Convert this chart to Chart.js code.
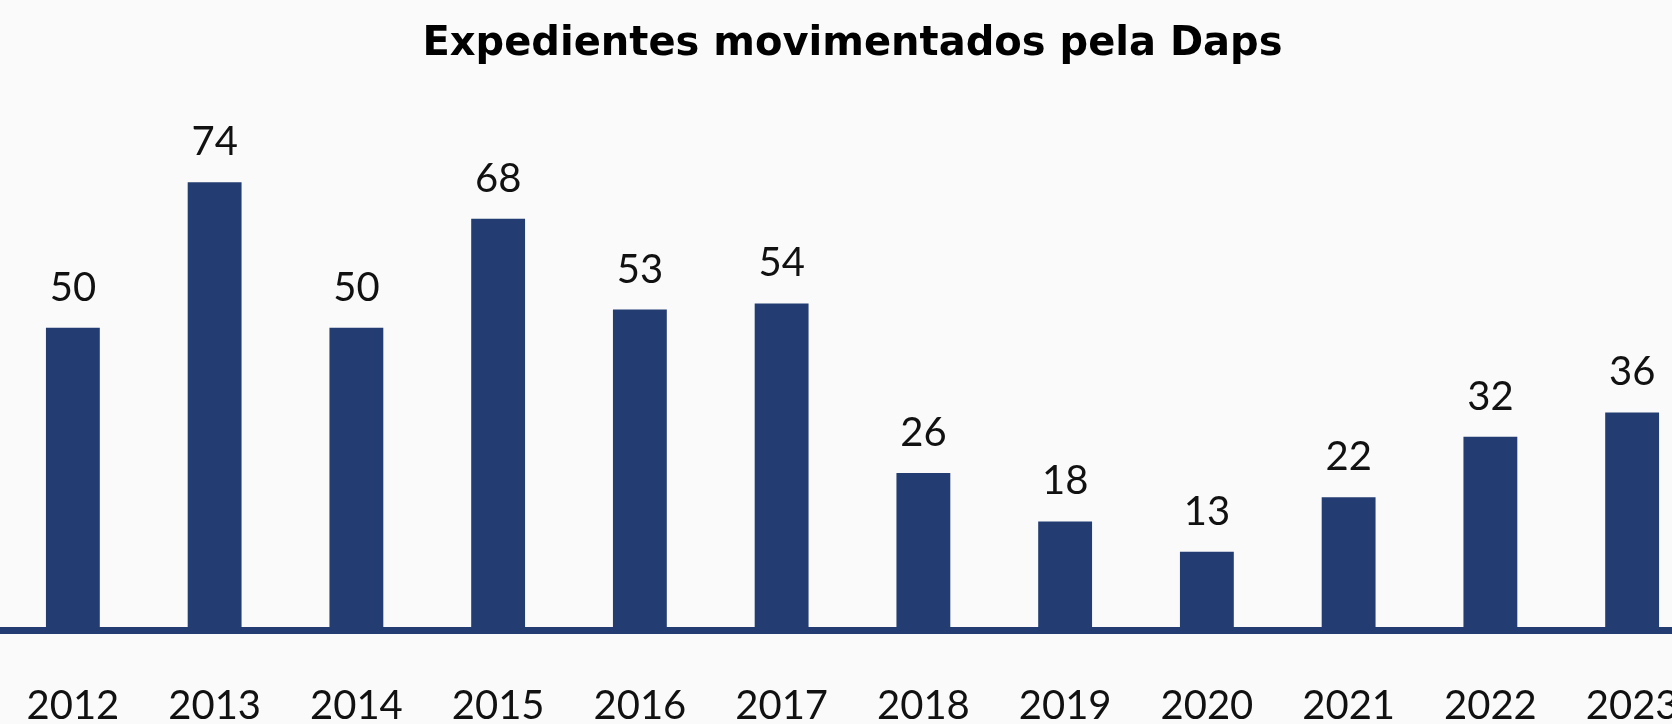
<!DOCTYPE html>
<html>
<head>
<meta charset="utf-8">
<title>Expedientes movimentados pela Daps</title>
<script src="https://cdn.jsdelivr.net/npm/chart.js@4/dist/chart.umd.min.js"></script>
<style>
	html, body { margin: 0; padding: 0; background: #fafafa; overflow: hidden; }
	.chart-box { position: relative; width: 1704px; height: 724px; }
</style>
</head>
<body>
<div class="chart-box"><canvas id="expedientesChart"></canvas></div>
<script>
const anos = ["2012", "2013", "2014", "2015", "2016", "2017", "2018", "2019", "2020", "2021", "2022", "2023"];
const expedientes = [50, 74, 50, 68, 53, 54, 26, 18, 13, 22, 32, 36];

const barColor = "#233d72";
const fontFamily = "Lato, 'Noto Sans', sans-serif";

// value written above each bar
const valueLabels = {
	id: "valueLabels",
	afterDatasetsDraw(chart) {
		const ctx = chart.ctx;
		const meta = chart.getDatasetMeta(0);
		ctx.save();
		ctx.font = `40px ${fontFamily}`;
		ctx.fillStyle = "#111111";
		ctx.textAlign = "center";
		ctx.textBaseline = "alphabetic";
		meta.data.forEach((bar, i) => {
			ctx.fillText(String(expedientes[i]), bar.x, bar.y - 27);
		});
		ctx.restore();
	},
};

new Chart(document.getElementById("expedientesChart"), {
	type: "bar",
	data: {
		labels: anos,
		datasets: [
			{
				data: expedientes,
				backgroundColor: barColor,
				borderWidth: 0,
				categoryPercentage: 1,
				barPercentage: 0.38,
			},
		],
	},
	options: {
		responsive: true,
		maintainAspectRatio: false,
		animation: false,
		layout: { padding: { left: 2, right: 1, top: 0, bottom: 0 } },
		plugins: {
			legend: { display: false },
			tooltip: { enabled: false },
			title: {
				display: true,
				text: "Expedientes movimentados pela Daps",
				color: "#000000",
				font: { family: "'DejaVu Sans', sans-serif", size: 40, weight: "bold" },
				padding: { top: 21, bottom: 77 },
			},
		},
		scales: {
			y: { display: false, min: 0, max: 80 },
			x: {
				z: 1,
				grid: { display: false, drawTicks: false },
				border: { color: barColor, width: 7 },
				ticks: {
					color: "#111111",
					padding: 57.5,
					font: { family: fontFamily, size: 40, lineHeight: 0.9 },
				},
				// labels sit low under the axis line; keep the axis short and flush left
				afterFit(scale) {
					scale.height = 93.5;
					scale.paddingLeft = 0;
					scale.paddingRight = 0;
				},
			},
		},
	},
	plugins: [valueLabels],
});
</script>
</body>
</html>
